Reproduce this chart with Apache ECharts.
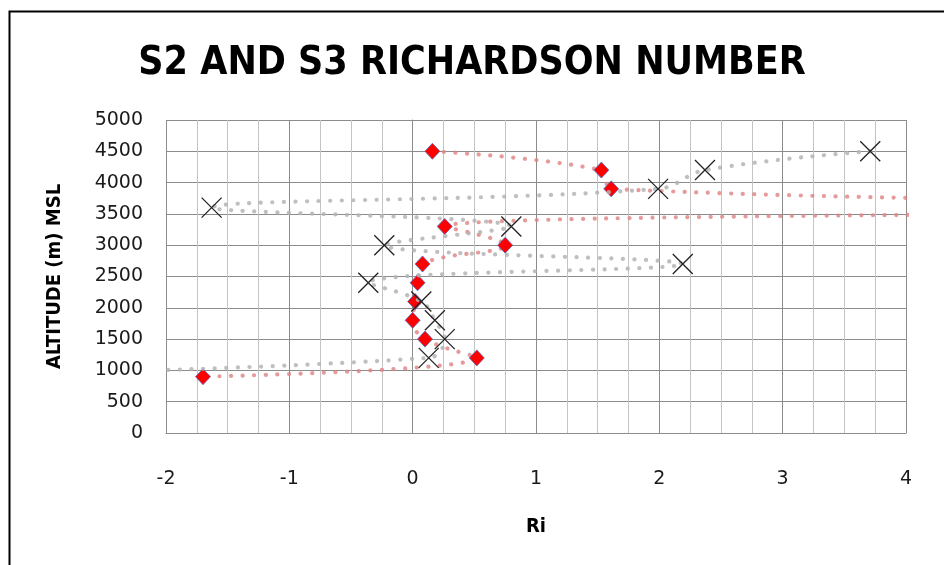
<!DOCTYPE html>
<html>
<head>
<meta charset="utf-8">
<title>S2 AND S3 RICHARDSON NUMBER</title>
<script src="https://cdn.jsdelivr.net/npm/echarts@6/dist/echarts.min.js"></script>
<style>
  html, body { margin: 0; padding: 0; background: #fff; }
  #chart { width: 944px; height: 565px; }
</style>
</head>
<body>
<div id="chart"></div>
<script>
// Altitude levels (m MSL) shared by both soundings
const altitudes = [4500, 4200, 3900, 3600, 3300, 3000, 2700, 2400, 2100, 1800, 1500, 1200, 900];
// Richardson number per level
const riS2 = [0.16, 1.53, 1.61, 8.0, 0.26, 0.75, 0.08, 0.04, 0.02, 0.0, 0.10, 0.52, -1.70];
const riS3 = [3.71, 2.37, 1.99, -1.63, 0.80, -0.23, 2.19, -0.36, 0.07, 0.18, 0.26, 0.13, -4.3];
const seriesNames = ['S2', 'S3'];
const xTicks = [-2, -1, 0, 1, 2, 3, 4];
const yTicks = [0, 500, 1000, 1500, 2000, 2500, 3000, 3500, 4000, 4500, 5000];

const pairs = (xs, ys) => xs.map((v, i) => [v, ys[i]]);

const labelFont = '"DejaVu Sans", sans-serif';
const boldFont = '"Liberation Sans Narrow", "DejaVu Sans Condensed", sans-serif';

const chart = echarts.init(document.getElementById('chart'), null, { renderer: 'canvas' });

chart.setOption({
  backgroundColor: '#ffffff',
  animation: false,
  title: {
    text: 'S2 AND S3 RICHARDSON NUMBER',
    left: 'center',
    top: 39,
    textStyle: { fontFamily: boldFont, fontWeight: 'bold', fontSize: 39, color: '#000' }
  },
  graphic: [{
    type: 'rect',
    shape: { x: 9.5, y: 11.5, width: 980, height: 620 },
    style: { fill: 'none', stroke: '#000', lineWidth: 2 },
    silent: true
  }],
  grid: { left: 166, top: 120, right: 38, bottom: 132 },
  xAxis: {
    type: 'value',
    min: xTicks[0],
    max: xTicks[xTicks.length - 1],
    interval: 1,
    name: 'Ri',
    nameLocation: 'middle',
    nameGap: 84,
    nameTextStyle: { fontFamily: boldFont, fontWeight: 'bold', fontSize: 20, color: '#000' },
    axisLine: { show: true, onZero: false, lineStyle: { color: '#8c8c8c', width: 1 } },
    axisTick: { show: false },
    axisLabel: { margin: 37, fontFamily: labelFont, fontSize: 19, color: '#1a1a1a',
      formatter: v => String(v) },
    splitLine: { show: true, lineStyle: { color: '#8c8c8c', width: 1 } },
    minorTick: { show: false, splitNumber: 4 },
    minorSplitLine: { show: true, lineStyle: { color: '#c4c4c4', width: 1 } }
  },
  yAxis: {
    type: 'value',
    min: yTicks[0],
    max: yTicks[yTicks.length - 1],
    interval: 500,
    name: 'ALTITUDE (m) MSL',
    nameLocation: 'middle',
    nameRotate: 90,
    nameGap: 101,
    nameTextStyle: { fontFamily: boldFont, fontWeight: 'bold', fontSize: 20, color: '#000' },
    axisLine: { show: true, lineStyle: { color: '#8c8c8c', width: 1 } },
    axisTick: { show: false },
    axisLabel: { margin: 23, fontFamily: labelFont, fontSize: 19, color: '#1a1a1a',
      formatter: v => String(v) },
    splitLine: { show: true, lineStyle: { color: '#8c8c8c', width: 1 } }
  },
  series: [
    {
      name: seriesNames[0],
      type: 'line',
      data: pairs(riS2, altitudes),
      smooth: 0.4,
      clip: true,
      symbol: 'diamond',
      symbolSize: [15, 16],
      showAllSymbol: true,
      itemStyle: { color: '#ff0000', borderColor: '#4a6fc1', borderWidth: 0.8 },
      lineStyle: { color: 'rgba(222,130,130,0.8)', width: 4.2, type: [0.1, 11.5], cap: 'round' },
      z: 2
    },
    {
      name: seriesNames[1],
      type: 'line',
      data: pairs(riS3, altitudes),
      smooth: 0.4,
      clip: true,
      symbol: 'path://M0,0L10,10M10,0L0,10',
      symbolSize: 20,
      showAllSymbol: true,
      itemStyle: { color: 'transparent', borderColor: '#222', borderWidth: 1.3 },
      lineStyle: { color: 'rgba(180,180,180,0.85)', width: 4.2, type: [0.1, 11.5], cap: 'round' },
      z: 3
    }
  ]
});
</script>
</body>
</html>
